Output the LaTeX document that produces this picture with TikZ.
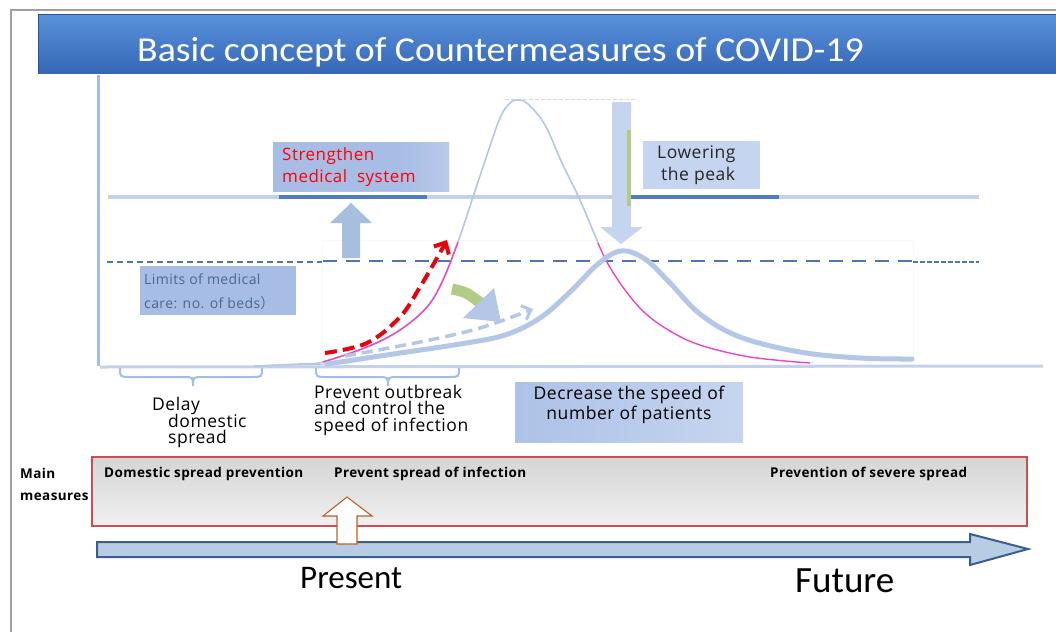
\documentclass[tikz,border=0pt]{standalone}
\usepackage{fontspec}
\setmainfont{Open Sans}[LetterSpace=3]
\newfontfamily\calib{Carlito}
\newfontfamily\cjkjp{Noto Sans CJK JP}
\usetikzlibrary{arrows.meta}
\definecolor{bannerTop}{HTML}{5A92DC}
\definecolor{bannerBot}{HTML}{3567B5}
\definecolor{lblue}{HTML}{B4C7E7}
\definecolor{axisblue}{HTML}{A4BDE6}
\definecolor{darkseg}{HTML}{4E7DBE}
\definecolor{boxA}{HTML}{A7BDE6}
\definecolor{boxB}{HTML}{B9CAEA}
\definecolor{boxC}{HTML}{C6D5EF}
\definecolor{uparrow}{HTML}{A7BFDF}
\definecolor{pinkc}{HTML}{EE45C2}
\definecolor{redc}{HTML}{E8000B}
\definecolor{greenc}{HTML}{B2CC86}
\definecolor{limitc}{HTML}{4F76AA}
\definecolor{limtext}{HTML}{4A6A8A}
\definecolor{redbox}{HTML}{C9504F}
\definecolor{tlfill}{HTML}{B8CCE4}
\definecolor{tlborder}{HTML}{3A5F8F}
\definecolor{brownc}{HTML}{B8622A}
\tikzset{
  lbl/.style={inner sep=0pt, anchor=base west, font=\fontsize{17.5}{20}\selectfont},
  mm/.style={inner sep=0pt, anchor=base west, font=\bfseries\fontsize{13.5}{16}\selectfont},
}
\begin{document}
\begin{tikzpicture}[x=1pt,y=-1pt]
\useasboundingbox (0,0) rectangle (1056,632);
\fill[white] (0,0) rectangle (1056,632);
% page frame
\draw[gray!75, line width=1.3] (11,632) -- (11,10) -- (1056,10);
% title banner
\shade[top color=bannerTop, bottom color=bannerBot] (38,14) rectangle (1056,73);
\draw[bannerBot!80!black, line width=0.6] (38,73) -- (38,14) -- (1056,14);
\node[inner sep=0pt, anchor=base west, xscale=1.08, text=white, font=\calib\fontsize{35}{40}\selectfont] (title) at (137,61) {Basic concept of Countermeasures of COVID-19};

% faint frame
\draw[gray!5, line width=0.8] (322,240) rectangle (913,362);
% axes
\draw[axisblue, line width=3] (98,75) -- (98,366);
\draw[lblue!80, line width=3] (100,367) -- (1043,366);

% upper line (strengthened capacity)
\draw[lblue!80, line width=4] (108,197) -- (979,197);
\draw[darkseg, line width=4] (279,197) -- (427,197);
\draw[darkseg, line width=4] (631,197) -- (779,197);

% limits dashed line
\draw[limitc, line width=1.2, dash pattern=on 6pt off 4pt] (107,262) -- (322,262);
\draw[limitc, line width=2, dash pattern=on 14pt off 9pt] (323,261) -- (913,261);
\draw[limitc, line width=1.2, dash pattern=on 5pt off 2pt] (913,262) -- (979,262);

% top peak dashed
\draw[gray!30, line width=1, dash pattern=on 4pt off 2pt] (505,99) -- (637,99);

% Strengthen box
\shade[left color=boxA, right color=boxB] (273,142) rectangle (449,191);
\fill[boxA] (273,142) rectangle (400,191);
\shade[left color=boxA, right color=boxB] (400,142) rectangle (449,191);
\node[lbl, font=\fontsize{17}{20}\selectfont, text=red] (str1) at (282,160) {Strengthen};
\node[lbl, font=\fontsize{17}{20}\selectfont, text=red] (str2) at (282,182) {medical\ \ system};

% Lowering box
\fill[boxC] (643,141) rectangle (760,189);
\node[lbl, text=black!85] (low1) at (657,158) {Lowering};
\node[lbl, text=black!85] (low2) at (661,180) {the peak};

% up block arrow
\fill[uparrow] (342,258) -- (342,223) -- (330,223) -- (351,203) -- (372,223) -- (360,223) -- (360,258) -- cycle;

% Limits box
\fill[boxA] (140,266) rectangle (296,315);
\node[lbl, font=\fontsize{14}{16}\selectfont, text=limtext] (lim1) at (144,284) {Limits of medical};
\node[lbl, font=\fontsize{14}{16}\selectfont, text=limtext] (lim2) at (144,308) {care: no. of beds{\cjkjp ）}};

% tall curve (thin)
\draw[lblue, line width=1.6] plot[smooth, tension=0.6] coordinates {(255,366) (300,364) (323,362) (367,347) (400,330) (427,307) (443,280) (458,242) (473,197) (486,158) (500,118) (510,103) (518,100) (528,104) (545,125) (562,163) (580,200) (598,243)};
% pink curve
\draw[pinkc, line width=1.4] plot[smooth, tension=0.6] coordinates {(323,362) (367,347) (400,330) (427,307) (443,280) (458,242)};
\draw[pinkc, line width=1.4] plot[smooth, tension=0.6] coordinates {(598,243) (608,264) (625,290) (645,313) (670,331) (700,345) (750,357) (810,363)};

% flattened curve (thick)
\draw[lblue, line width=5, line cap=round] plot[smooth, tension=0.6] coordinates {(327,364) (400,353) (460,344) (505,335) (540,318) (570,292) (598,264) (621,251) (645,259) (670,283) (700,314) (740,337) (800,352) (860,358) (912,359)};
\draw[lblue, line width=1.2] (255,366) -- (327,364);

% down block arrow
\fill[boxC] (612,102) -- (631,102) -- (631,227) -- (643,227) -- (621,244) -- (600,227) -- (612,227) -- cycle;
\draw[greenc, line width=4] (629,130) -- (629,206);
\draw[darkseg, line width=4] (631,197) -- (640,197);

% red dashed arrow
\draw[redc, line width=4, dash pattern=on 12pt off 6pt, -{Straight Barb[length=9pt,width=17pt,line width=4pt]}]
  plot[smooth, tension=0.6] coordinates {(325,353) (367,343) (400,317) (420,287) (437,258) (447,240)};

% light blue dashed arrow
\draw[lblue, line width=3.5, dash pattern=on 11pt off 6pt, -{Straight Barb[length=8pt,width=15pt,line width=3pt]}]
  plot[smooth, tension=0.6] coordinates {(345,356) (420,342) (480,328) (533,309)};

% green curved arrow
\draw[greenc, line width=11] (452,289) .. controls (466,292) .. (482,304);
\fill[lblue] (463,318) -- (494,288) -- (501,322) -- cycle;

% braces
\draw[axisblue, line width=2] (120,368) .. controls (120,377) .. (130,377) -- (183,377) .. controls (193,377) .. (193,386) .. controls (193,377) .. (203,377) -- (252,377) .. controls (262,377) .. (262,368);
\draw[axisblue, line width=2] (316,368) .. controls (316,377) .. (326,377) -- (378,377) .. controls (388,377) .. (388,386) .. controls (388,377) .. (398,377) -- (449,377) .. controls (459,377) .. (459,368);

% lower labels
\node[lbl] (d1) at (152,410) {Delay};
\node[lbl] (d2) at (168,427) {domestic};
\node[lbl] (d3) at (168,443) {spread};
\node[lbl] (p1) at (314,398) {Prevent outbreak};
\node[lbl] (p2) at (314,414) {and control the};
\node[lbl] (p3) at (314,431) {speed of infection};

\shade[left color=boxA!80!boxC, right color=boxC] (515,382) rectangle (743,442);
\node[inner sep=0pt, anchor=base, font=\fontsize{17.5}{20}\selectfont] (dec1) at (629,399) {Decrease the speed of};
\node[inner sep=0pt, anchor=base, font=\fontsize{17.5}{20}\selectfont] (dec2) at (629,419) {number of patients};

% main measures box
\shade[top color=gray!33, bottom color=gray!12] (92,457) rectangle (1027,526);
\draw[redbox, line width=2] (92,457) rectangle (1027,526);
\node[mm] (m1) at (104,477) {Domestic spread prevention};
\node[mm] (m2) at (334,477) {Prevent spread of infection};
\node[mm] (m3) at (770,477) {Prevention of severe spread};
\node[mm] (mainA) at (20,478) {Main};
\node[mm] (mainB) at (20,500) {measures};

% timeline arrow
\filldraw[fill=tlfill, draw=tlborder, line width=2] (97,542) -- (970,542) -- (970,534) -- (1028,549) -- (970,565) -- (970,557) -- (97,557) -- cycle;

% hollow arrow
\filldraw[fill=white, draw=brownc, line width=1.1] (347,497) -- (372,516) -- (357,516) -- (357,544) -- (337,544) -- (337,516) -- (323,516) -- cycle;

% present / future
\node[inner sep=0pt, anchor=base west, font=\calib\fontsize{33}{36}\selectfont] (present) at (300,588) {Present};
\node[inner sep=0pt, anchor=base west, font=\calib\fontsize{37}{40}\selectfont] (future) at (795,592) {Future};
\end{tikzpicture}
\end{document}
